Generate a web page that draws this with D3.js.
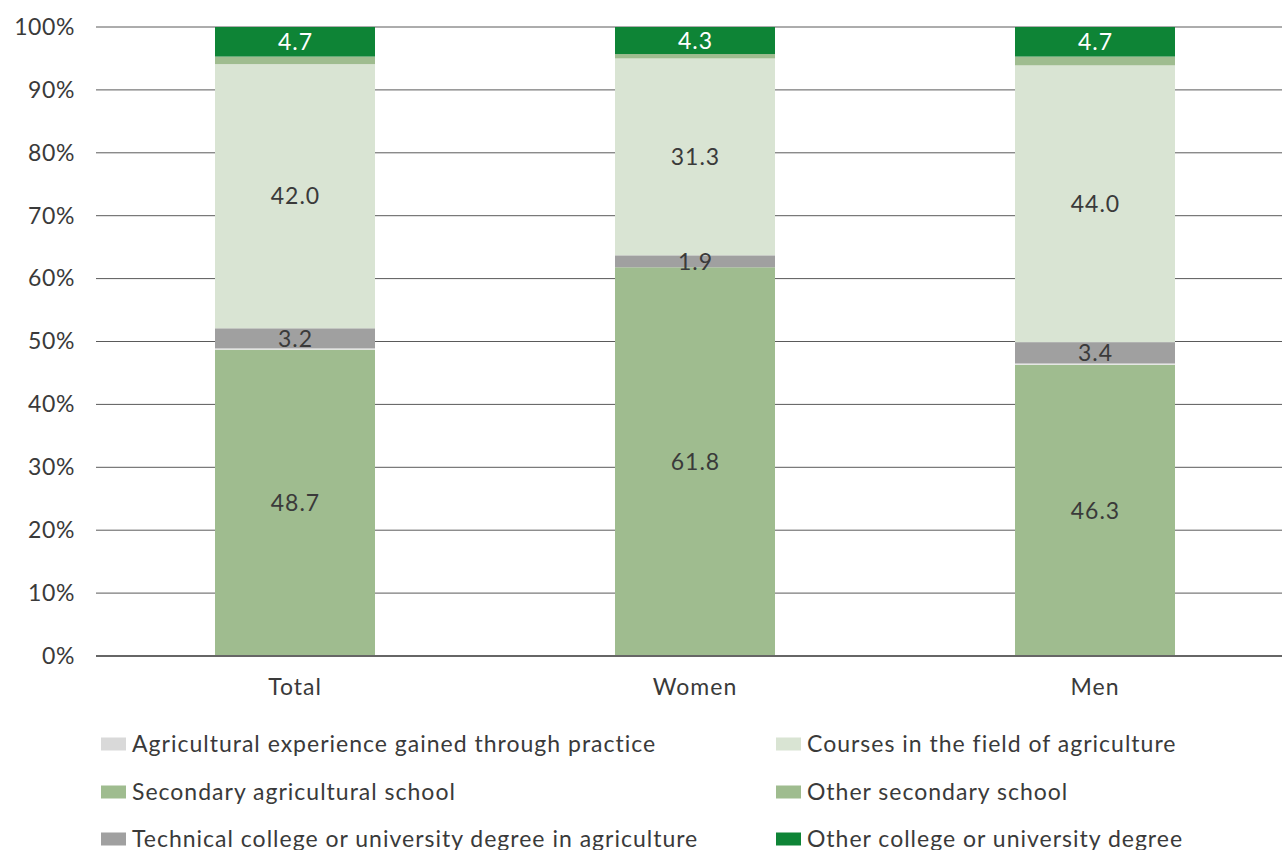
<!DOCTYPE html>
<html>
<head>
<meta charset="utf-8">
<script src="https://cdn.jsdelivr.net/npm/d3@7"></script>
<style>
  html, body { margin: 0; padding: 0; background: #fff; }
  svg { display: block; font-family: Lato, "Open Sans", sans-serif; }
</style>
</head>
<body>
<svg id="chart" width="1282" height="850"></svg>
<script>
// Groups on the x axis
const categories = ["Total", "Women", "Men"];

// Education type (stacked bottom to top), shares in percent
const practice        = [0.2, 0.0, 0.2];   // Agricultural experience gained through practice
const secondaryAgri   = [48.7, 61.8, 46.3]; // Secondary agricultural school
const technicalAgri   = [3.2, 1.9, 3.4];    // Technical college or university degree in agriculture
const courses         = [42.0, 31.3, 44.0]; // Courses in the field of agriculture
const otherSecondary  = [1.2, 0.7, 1.4];    // Other secondary school
const otherCollege    = [4.7, 4.3, 4.7];    // Other college or university degree

const yTicks = [0, 10, 20, 30, 40, 50, 60, 70, 80, 90, 100];

const seriesInfo = [
  { key: "secondaryAgri",  name: "Secondary agricultural school", values: secondaryAgri, color: "#9fbc8f", label: true, textColor: "#3a3a3a" },
  { key: "practice",       name: "Agricultural experience gained through practice", values: practice, color: "#e4e4e4", label: false },
  { key: "technicalAgri",  name: "Technical college or university degree in agriculture", values: technicalAgri, color: "#a0a0a0", label: true, textColor: "#3a3a3a" },
  { key: "courses",        name: "Courses in the field of agriculture", values: courses, color: "#d9e4d3", label: true, textColor: "#3a3a3a" },
  { key: "otherSecondary", name: "Other secondary school", values: otherSecondary, color: "#9fbc8f", label: false },
  { key: "otherCollege",   name: "Other college or university degree", values: otherCollege, color: "#0e8436", label: true, textColor: "#ffffff" }
];

// Legend layout order (two columns, three rows)
const legendOrder = ["practice", "courses", "secondaryAgri", "otherSecondary", "technicalAgri", "otherCollege"];

const rows = categories.map((c, i) => {
  const r = { category: c };
  seriesInfo.forEach(s => { r[s.key] = s.values[i]; });
  return r;
});

const svg = d3.select("#chart");

const x = d3.scaleBand()
  .domain(categories)
  .range([95, 1295])
  .paddingInner(0.6)
  .paddingOuter(0.3);

const y = d3.scaleLinear()
  .domain([0, 100])
  .range([656, 27]);

// Gridlines
svg.append("g")
  .selectAll("line")
  .data(yTicks.filter(t => t > 0))
  .join("line")
  .attr("x1", 96).attr("x2", 1282)
  .attr("y1", d => y(d)).attr("y2", d => y(d))
  .attr("stroke", "#5a5a5a")
  .attr("stroke-width", 1);

// Y axis labels
const yAxis = d3.axisLeft(y)
  .tickValues(yTicks)
  .tickFormat(d => d + "%")
  .tickSize(0)
  .tickPadding(0);

svg.append("g")
  .attr("transform", "translate(75,0)")
  .call(yAxis)
  .call(g => g.select(".domain").remove())
  .call(g => g.selectAll("text")
    .attr("font-size", 23)
    .attr("letter-spacing", "0.6px")
    .attr("fill", "#3a3a3a")
    .attr("font-family", "Lato, 'Open Sans', sans-serif"));

// Stacked bars
const stack = d3.stack().keys(seriesInfo.map(s => s.key));
const stacked = stack(rows);

const layers = svg.append("g")
  .selectAll("g")
  .data(stacked)
  .join("g")
  .attr("fill", (d, i) => seriesInfo[i].color);

layers.selectAll("rect")
  .data(d => d)
  .join("rect")
  .attr("x", d => x(d.data.category))
  .attr("width", x.bandwidth())
  .attr("y", d => y(d[1]))
  .attr("height", d => Math.max(0, y(d[0]) - y(d[1])));

// Value labels
stacked.forEach((layer, i) => {
  const info = seriesInfo[i];
  if (!info.label) return;
  svg.append("g")
    .selectAll("text")
    .data(layer)
    .join("text")
    .attr("x", d => x(d.data.category) + x.bandwidth() / 2 + 0.5)
    .attr("y", d => (y(d[0]) + y(d[1])) / 2)
    .attr("dy", "0.36em")
    .attr("text-anchor", "middle")
    .attr("font-size", 23)
    .attr("letter-spacing", "1px")
    .attr("fill", info.textColor)
    .text(d => (d[1] - d[0]).toFixed(1));
});

// Baseline
svg.append("line")
  .attr("x1", 96).attr("x2", 1282)
  .attr("y1", y(0)).attr("y2", y(0))
  .attr("stroke", "#666")
  .attr("stroke-width", 2);

// Category labels
const xAxis = d3.axisBottom(x).tickSize(0).tickPadding(0);
svg.append("g")
  .attr("transform", `translate(0,${y(0) + 23})`)
  .call(xAxis)
  .call(g => g.select(".domain").remove())
  .call(g => g.selectAll("text")
    .attr("font-size", 23)
    .attr("letter-spacing", "1px")
    .attr("fill", "#3a3a3a")
    .attr("dy", "0.71em")
    .attr("font-family", "Lato, 'Open Sans', sans-serif"));

// Legend
const legendX = [101, 776];
const legendY = [744, 792, 839];
const legend = svg.append("g")
  .selectAll("g")
  .data(legendOrder.map(k => seriesInfo.find(s => s.key === k)))
  .join("g")
  .attr("transform", (d, i) => `translate(${legendX[i % 2]},${legendY[Math.floor(i / 2)]})`);

legend.append("rect")
  .attr("x", 0).attr("y", -6.5)
  .attr("width", 25).attr("height", 13)
  .attr("fill", d => d.key === "practice" ? "#d9d9d9" : d.color);

legend.append("text")
  .attr("x", 31)
  .attr("y", 0)
  .attr("dy", "0.36em")
  .attr("font-size", 23)
  .attr("letter-spacing", "1px")
  .attr("fill", "#3a3a3a")
  .text(d => d.name);
</script>
</body>
</html>
